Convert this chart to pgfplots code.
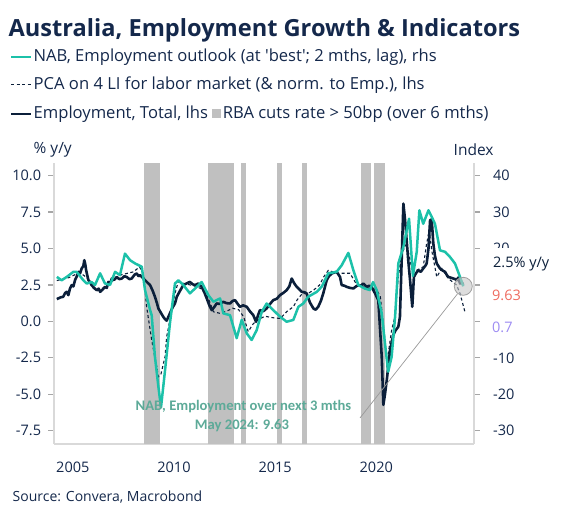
\documentclass[border=0pt]{standalone}
\usepackage{fontspec}
\setmainfont{Open Sans}
\newfontfamily\calib{Carlito}
\usepackage{pgfplots}
\pgfplotsset{compat=1.18}
\definecolor{navy}{HTML}{0B1F3A}
\definecolor{nabteal}{HTML}{1CC1A9}
\definecolor{bargrey}{HTML}{C0C0C0}
\definecolor{axgrey}{HTML}{D9D9D9}
\definecolor{tickgrey}{HTML}{A6A6A6}
\definecolor{txt}{HTML}{14284B}
\definecolor{annot}{HTML}{5DAA98}
\definecolor{salmon}{HTML}{EE6B5F}
\definecolor{purp}{HTML}{9D8CF2}

\pgfplotstableread{
x y
2004.21 1.53
2004.40 1.65
2004.53 1.69
2004.62 1.95
2004.70 2.03
2004.78 1.80
2004.86 2.25
2004.95 2.49
2005.03 2.40
2005.11 2.83
2005.20 3.10
2005.28 3.40
2005.36 3.30
2005.44 3.63
2005.52 3.80
2005.57 4.20
2005.62 3.90
2005.66 3.51
2005.77 2.83
2005.85 2.70
2005.93 2.49
2006.05 2.30
2006.18 2.14
2006.28 2.25
2006.35 2.03
2006.45 2.15
2006.60 2.37
2006.68 2.30
2006.76 2.71
2006.85 2.60
2006.93 2.94
2007.05 2.85
2007.17 3.05
2007.30 2.90
2007.42 2.94
2007.55 3.10
2007.66 3.05
2007.80 2.90
2007.91 2.94
2008.05 3.20
2008.16 3.29
2008.25 3.10
2008.33 3.17
2008.45 3.00
2008.57 2.83
2008.70 2.65
2008.82 2.49
2008.95 2.10
2009.06 1.69
2009.15 1.30
2009.23 0.89
2009.35 0.60
2009.47 0.32
2009.56 0.15
2009.64 0.05
2009.72 0.30
2009.80 0.55
2009.93 0.95
2010.05 1.23
2010.14 1.69
2010.30 2.10
2010.46 2.49
2010.62 2.60
2010.79 2.71
2010.92 2.55
2011.04 2.49
2011.20 2.60
2011.37 2.37
2011.50 2.00
2011.62 1.58
2011.75 1.10
2011.87 0.77
2012.00 1.00
2012.11 1.23
2012.25 1.20
2012.44 1.34
2012.60 1.25
2012.77 1.23
2012.90 1.40
2013.02 1.46
2013.15 1.20
2013.26 1.00
2013.42 1.10
2013.60 1.00
2013.75 0.70
2013.92 0.43
2014.06 -0.03
2014.15 0.40
2014.25 0.77
2014.42 0.70
2014.58 0.89
2014.75 1.20
2014.91 1.46
2015.08 1.55
2015.24 1.80
2015.40 1.95
2015.57 2.14
2015.70 2.40
2015.82 2.94
2015.95 2.60
2016.07 2.37
2016.20 2.20
2016.31 2.03
2016.45 2.00
2016.56 1.92
2016.72 1.30
2016.89 0.89
2017.00 0.80
2017.13 1.00
2017.26 1.40
2017.38 1.92
2017.55 2.83
2017.66 3.10
2017.80 3.29
2017.92 3.35
2018.04 3.40
2018.21 3.05
2018.29 2.49
2018.42 2.45
2018.54 2.37
2018.70 2.30
2018.87 2.26
2019.00 2.40
2019.11 2.49
2019.24 2.45
2019.36 2.60
2019.53 2.37
2019.65 2.45
2019.77 2.37
2019.94 1.92
2020.10 1.46
2020.27 -2.42
2020.35 -5.73
2020.43 -5.00
2020.52 -4.02
2020.60 -3.00
2020.68 -1.97
2020.84 -0.94
2020.96 -0.60
2021.09 -0.37
2021.17 0.32
2021.26 4.42
2021.34 8.08
2021.42 7.00
2021.50 5.57
2021.58 4.20
2021.67 2.83
2021.78 1.00
2021.86 3.05
2021.96 3.30
2022.08 3.51
2022.20 3.40
2022.32 3.63
2022.42 3.80
2022.49 3.97
2022.58 5.00
2022.66 6.94
2022.74 7.00
2022.82 5.34
2022.90 4.50
2022.99 3.97
2023.07 3.80
2023.15 3.63
2023.27 3.50
2023.40 3.40
2023.48 3.20
2023.56 3.05
2023.68 3.00
2023.81 2.94
2023.90 2.90
2023.98 2.83
2024.05 3.01
2024.14 2.60
2024.22 2.70
2024.30 2.50
}\emp

\pgfplotstableread{
x y
2004.21 2.80
2004.50 2.90
2004.80 3.00
2005.10 3.20
2005.40 3.30
2005.70 3.00
2006.00 2.30
2006.20 2.10
2006.50 2.30
2006.80 2.60
2007.10 2.90
2007.40 3.20
2007.70 3.30
2008.00 3.40
2008.30 3.74
2008.50 3.20
2008.65 1.00
2008.90 -1.28
2009.06 -2.50
2009.15 -3.10
2009.23 -3.80
2009.36 -3.60
2009.56 -2.42
2009.64 -1.05
2009.80 0.09
2010.05 1.92
2010.21 2.71
2010.50 2.60
2010.80 2.50
2011.10 2.40
2011.40 2.20
2011.70 1.60
2011.95 0.66
2012.28 0.55
2012.60 0.70
2012.90 0.90
2013.20 0.80
2013.45 0.30
2013.67 -0.70
2013.90 -0.20
2014.10 0.09
2014.50 0.35
2014.90 0.25
2015.25 0.20
2015.60 0.70
2015.90 1.00
2016.10 1.50
2016.35 1.92
2016.60 1.90
2016.90 2.14
2017.20 2.50
2017.40 3.05
2017.63 3.50
2017.85 3.40
2018.10 3.30
2018.35 3.30
2018.70 3.30
2019.00 2.60
2019.35 2.37
2019.70 2.26
2020.00 2.20
2020.20 1.70
2020.43 -1.28
2020.52 -2.90
2020.76 -0.60
2020.92 0.32
2021.09 3.05
2021.26 4.66
2021.50 5.34
2021.74 3.74
2022.00 3.51
2022.32 3.74
2022.49 5.34
2022.62 6.25
2022.74 4.88
2022.99 3.05
2023.24 3.63
2023.56 2.94
2023.97 2.49
2024.14 1.92
2024.38 0.66
}\pca

\pgfplotstableread{
x y
2004.21 12.2
2004.45 11.3
2004.70 12.2
2005.03 13.6
2005.19 13.6
2005.52 11.3
2005.69 10.4
2005.93 10.8
2006.10 10.0
2006.35 13.2
2006.59 10.4
2006.84 10.0
2007.09 13.6
2007.33 12.7
2007.58 18.6
2007.83 16.8
2008.08 15.9
2008.41 15.0
2008.57 8.6
2008.82 3.1
2008.90 1.7
2009.06 -9.7
2009.23 -17.9
2009.36 -23.6
2009.56 -13.4
2009.80 -0.6
2010.05 10.4
2010.22 11.3
2010.46 10.0
2010.79 7.7
2011.04 9.0
2011.37 10.8
2011.70 7.2
2011.95 5.4
2012.28 6.3
2012.44 2.2
2012.77 1.7
2013.10 -4.6
2013.35 0.4
2013.60 -3.3
2013.84 -5.1
2014.09 -2.4
2014.34 2.6
2014.58 4.9
2014.91 3.1
2015.24 1.3
2015.57 -0.1
2015.90 0.4
2016.15 4.0
2016.39 4.9
2016.64 6.8
2017.06 8.1
2017.30 9.5
2017.63 13.2
2018.04 13.6
2018.29 15.4
2018.62 18.8
2018.87 14.0
2019.11 10.0
2019.44 9.0
2019.69 8.6
2019.84 10.8
2020.02 8.6
2020.27 2.2
2020.43 -6.0
2020.59 -13.8
2020.76 -9.7
2020.93 1.3
2021.09 15.9
2021.34 20.4
2021.62 28.2
2021.81 12.5
2022.00 19.1
2022.13 30.5
2022.32 26.8
2022.58 30.5
2022.75 28.6
2022.90 26.8
2023.15 19.5
2023.40 19.1
2023.64 17.7
2023.89 15.9
2024.14 12.2
2024.30 9.63
}\nab

\begin{document}
\begin{tikzpicture}[x=1pt,y=1pt]
\path (0,0) rectangle (566,521);
% title
\node[anchor=base west, inner sep=0, text=txt, font=\bfseries\fontsize{23.6}{28}\selectfont] at (8.5,484.5) {Australia, Employment Growth \& Indicators};
% legend
\begin{scope}[font=\fontsize{16.6}{20}\selectfont, text=txt]
\draw[nabteal, line width=2.2] (11,464)--(31,464);
\node[anchor=west, inner sep=0] at (33.5,464) {NAB, Employment outlook (at \textquotesingle best\textquotesingle; 2 mths, lag), rhs};
\draw[navy, line width=1, dash pattern=on 3pt off 2.5pt] (11,436)--(31,436);
\node[anchor=west, inner sep=0] at (33.5,436) {PCA on 4 LI for labor market (\& norm. to Emp.), lhs};
\draw[navy, line width=2.5] (11,407)--(31,407);
\node[anchor=west, inner sep=0] at (33.5,407) {Employment, Total, lhs \textcolor{bargrey}{\rule[0pt]{8.5pt}{9.5pt}}\kern2pt RBA cuts rate > 50bp (over 6 mths)};
\end{scope}
\begin{scope}[font=\fontsize{15.5}{18}\selectfont, text=txt]
\node[anchor=west, inner sep=0] at (33.5,371) {\% y/y};
\node[anchor=west, inner sep=0] at (453.5,371) {Index};
\node[anchor=west, inner sep=0, font=\fontsize{14}{16}\selectfont] at (12.5,24) {Source: Convera, Macrobond};
\end{scope}

\begin{axis}[
  at={(54.3pt,77pt)}, anchor=south west, scale only axis,
  width=419.7pt, height=281pt,
  xmin=2004.086, xmax=2024.83, ymin=-8.414, ymax=10.87,
  axis x line*=bottom, axis y line*=left,
  axis line style={draw=axgrey, line width=1.6, -},
  xtick={2005,2010,2015,2020}, xticklabels={2005,2010,2015,2020},
  ytick={-7.5,-5,-2.5,0,2.5,5,7.5,10},
  yticklabels={-7.5,-5.0,-2.5,0.0,2.5,5.0,7.5,10.0},
  tick align=outside, major tick length=6pt,
  xtick style={draw=none},
  ytick style={draw=tickgrey, line width=1.2},
  ticklabel style={font=\fontsize{14.5}{17}\selectfont, text=txt, inner sep=0pt},
  yticklabel style={anchor=east, xshift=-7pt},
  xticklabel style={anchor=north, yshift=-12pt},
  clip=false,
]
\addplot[fill=bargrey, draw=none] coordinates {(2008.519,-8.414) (2008.519,10.87) (2009.310,10.87) (2009.310,-8.414)} --cycle;
\addplot[fill=bargrey, draw=none] coordinates {(2011.668,-8.414) (2011.668,10.87) (2012.982,10.87) (2012.982,-8.414)} --cycle;
\addplot[fill=bargrey, draw=none] coordinates {(2013.313,-8.414) (2013.313,10.87) (2013.561,10.87) (2013.561,-8.414)} --cycle;
\addplot[fill=bargrey, draw=none] coordinates {(2015.078,-8.414) (2015.078,10.87) (2015.325,10.87) (2015.325,-8.414)} --cycle;
\addplot[fill=bargrey, draw=none] coordinates {(2016.318,-8.414) (2016.318,10.87) (2016.566,10.87) (2016.566,-8.414)} --cycle;
\addplot[fill=bargrey, draw=none] coordinates {(2019.250,-8.414) (2019.250,10.87) (2019.750,10.87) (2019.750,-8.414)} --cycle;
\addplot[fill=bargrey, draw=none] coordinates {(2019.911,-8.414) (2019.911,10.87) (2020.410,10.87) (2020.410,-8.414)} --cycle;
\addplot[navy, line width=1.1, dash pattern=on 3pt off 2.5pt] table[x=x,y=y] {\pca};
\addplot[navy, line width=2.6, line join=round] table[x=x,y=y] {\emp};
\end{axis}

\begin{axis}[
  at={(54.3pt,77pt)}, anchor=south west, scale only axis,
  width=419.7pt, height=281pt,
  xmin=2004.086, xmax=2024.83, ymin=-33.656, ymax=43.48,
  axis x line=none, axis y line*=right,
  axis line style={draw=axgrey, line width=1.6, -},
  ytick={-30,-20,...,40},
  yticklabels={-30,-20,-10,{},{},20,30,40},
  tick align=outside, major tick length=6pt,
  ytick style={draw=tickgrey, line width=1.2},
  ticklabel style={font=\fontsize{14.5}{17}\selectfont, text=txt, inner sep=0pt},
  yticklabel style={anchor=west, xshift=13pt},
  clip=false,
]
\addplot[nabteal, line width=2.5, line join=round] table[x=x,y=y] {\nab};
\addplot[gray!80, line width=0.7] coordinates {(2019.196,-26.5) (2024.02,7.6)};
\addplot[only marks, mark=*, mark size=9pt, mark options={fill=gray!45, fill opacity=0.6, draw=gray!75, line width=0.8}] coordinates {(2024.30,9.63)};
\end{axis}

% end-value labels with white backgrounds
\node[anchor=west, fill=white, inner xsep=1pt, minimum width=60pt, minimum height=32pt, text=navy, font=\fontsize{14.5}{17}\selectfont] at (491,257) {2.5\% y/y};
\node[anchor=west, inner xsep=1pt, text=salmon, font=\fontsize{14.5}{17}\selectfont] at (491,226) {9.63};
\node[anchor=west, inner xsep=1pt, text=purp, font=\fontsize{14.5}{17}\selectfont] at (491,194) {0.7};
% annotation
\node[text=annot, font=\calib\bfseries\fontsize{14.6}{16}\selectfont] at (243.5,114) {NAB, Employment over next 3 mths};
\node[text=annot, font=\calib\bfseries\fontsize{14.6}{16}\selectfont] at (242,95) {May 2024: 9.63};
\end{tikzpicture}
\end{document}
